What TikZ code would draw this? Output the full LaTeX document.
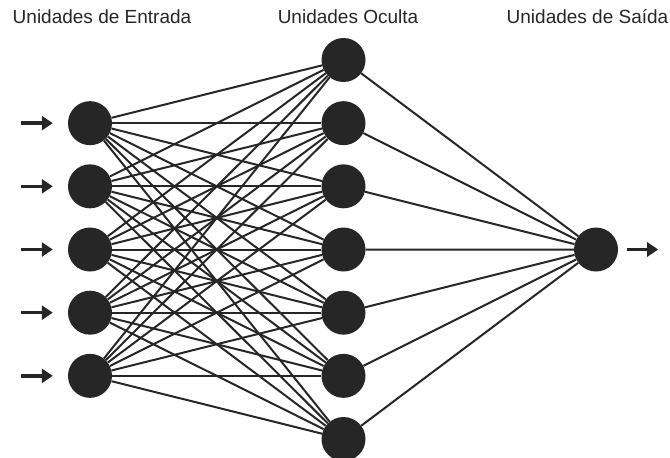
\documentclass[tikz,border=0pt]{standalone}
\usepackage{fontspec}
\setmainfont{Liberation Sans}
\usetikzlibrary{arrows.meta, positioning}

\definecolor{netzgrau}{HTML}{262626}

\begin{document}
\begin{tikzpicture}[x=1pt, y=-1pt, >={Triangle[length=11pt, width=14pt]},
    neuron/.style={circle, fill=netzgrau, minimum size=44pt, inner sep=0pt},
    weight/.style={line width=2pt, netzgrau},
    signal/.style={->, line width=3.5pt, netzgrau},
    layerlabel/.style={anchor=base, text=netzgrau, font=\fontsize{19}{23}\selectfont}]
  \useasboundingbox (0,0) rectangle (670,458);
  % Layer titles
  \node[layerlabel] (lab-in)  at (102,23)   {Unidades de Entrada};
  \node[layerlabel] (lab-hid) at (348,23)   {Unidades Oculta};
  \node[layerlabel] (lab-out) at (587.5,23) {Unidades de Saída};
  % Hidden units
  \foreach \k in {1,...,7}
    \node[neuron] (hid-\k) at (343.5, {60+63.17*(\k-1)}) {};
  % Input units
  \foreach \j in {1,...,5}
    \node[neuron] (in-\j) at (90, {60+63.17*\j}) {};
  % Output unit
  \node[neuron] (out) at (596, 249.5) {};
  % Weights: input -> hidden -> output
  \foreach \j in {1,...,5}
    \foreach \k in {1,...,7}
      \draw[weight] (in-\j) -- (hid-\k);
  \foreach \k in {1,...,7}
    \draw[weight] (hid-\k) -- (out);
  % Input signals
  \foreach \j in {1,...,5} {
    \coordinate[left=15pt of in-\j] (tip-\j);
    \coordinate[left=32pt of tip-\j] (src-\j);
    \draw[signal] (src-\j) -- (tip-\j);
  }
  % Output signal
  \coordinate[right=9pt of out] (res-start);
  \coordinate[right=31pt of res-start] (res);
  \draw[signal] (res-start) -- (res);
\end{tikzpicture}
\end{document}
